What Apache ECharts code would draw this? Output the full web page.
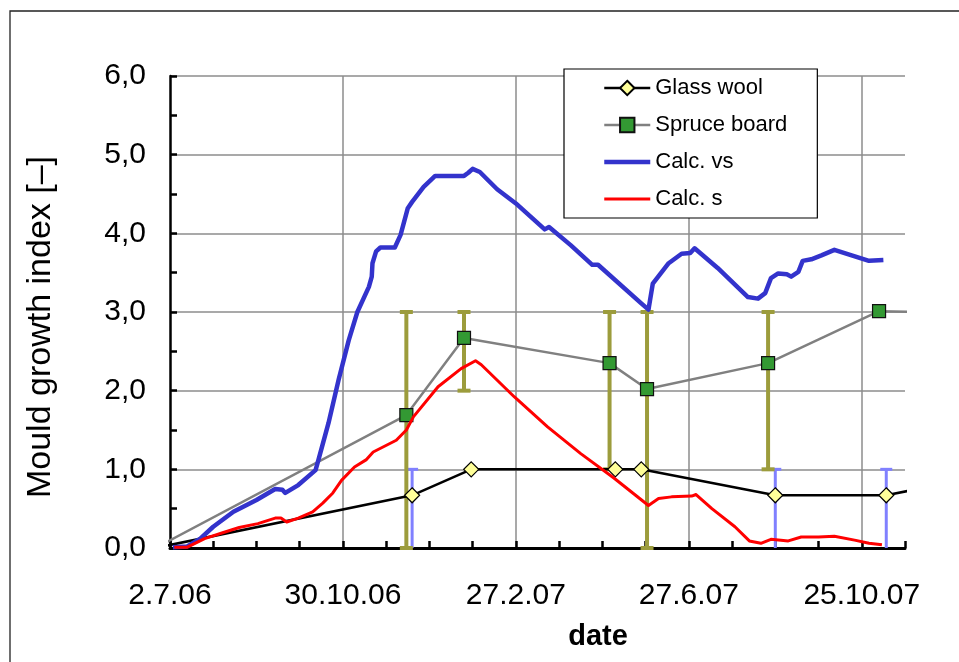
<!DOCTYPE html>
<html>
<head>
<meta charset="utf-8">
<script src="https://cdn.jsdelivr.net/npm/echarts@6/dist/echarts.min.js"></script>
<style>
  html, body { margin: 0; padding: 0; background: #fff; }
  #chart { width: 959px; height: 662px; }
</style>
</head>
<body>
<div id="chart"></div>
<script>
// x values are days counted from 2 July 2006
const START_DATE = [2006, 6, 2];
const xLabelDays = [0, 120, 240, 360, 480];

// Measured mould growth index
const glassDays  = [-5, 168, 209, 309, 327, 420, 497, 516];
const glassIndex = [0.02, 0.67, 1.0, 1.0, 1.0, 0.67, 0.67, 0.74];
const spruceDays  = [-5, 164, 204, 305, 331, 415, 492, 516];
const spruceIndex = [0.05, 1.69, 2.67, 2.35, 2.02, 2.35, 3.01, 3.0];

// Observed ranges of the measurements
const glassRangeDays = [168, 420, 497];
const glassRangeLow  = [0, 0, 0];
const glassRangeHigh = [1, 1, 1];
const spruceRangeDays = [164, 204, 305, 331, 415];
const spruceRangeLow  = [0, 2, 1, 0, 1];
const spruceRangeHigh = [3, 3, 3, 3, 3];

// Calculated index, very sensitive class
const vsDays = [2, 12, 21, 30, 44, 60, 73, 78, 80, 89, 101, 103, 110, 117, 124, 130, 138, 140, 140.5, 143,
  146, 156, 160, 165, 168, 176, 184, 204, 207, 210, 215, 227, 240, 260, 263, 278, 293, 297, 327, 332,
  335, 346, 355, 361, 364, 380, 401, 408, 413, 417, 422, 428, 431, 436, 439, 445, 452, 461, 473, 485, 495];
const vsIndex = [0.01, 0.02, 0.12, 0.27, 0.46, 0.61, 0.75, 0.74, 0.70, 0.80, 0.99, 1.12, 1.59, 2.14, 2.64, 3.00, 3.32, 3.45, 3.62, 3.77,
  3.82, 3.82, 3.98, 4.32, 4.40, 4.59, 4.73, 4.73, 4.77, 4.82, 4.78, 4.56, 4.38, 4.05, 4.08, 3.85, 3.60, 3.60, 3.11, 3.03,
  3.36, 3.62, 3.74, 3.75, 3.81, 3.56, 3.19, 3.17, 3.24, 3.43, 3.49, 3.48, 3.45, 3.51, 3.65, 3.67, 3.72, 3.79, 3.72, 3.65, 3.66];

// Calculated index, sensitive class
const sDays = [3, 12, 24, 36, 48, 61, 73, 77, 81, 89, 99, 106, 113, 119, 128, 136, 141, 157, 164, 169,
  186, 202, 212, 216, 239, 262, 285, 308, 332, 339, 348, 362, 365, 376, 392, 402, 410, 417, 429, 438,
  450, 461, 475, 485, 494];
const sIndex = [0.01, 0.01, 0.12, 0.19, 0.26, 0.31, 0.38, 0.38, 0.33, 0.38, 0.46, 0.57, 0.70, 0.86, 1.03, 1.12, 1.22, 1.37, 1.50, 1.67,
  2.05, 2.28, 2.38, 2.33, 1.92, 1.54, 1.20, 0.89, 0.54, 0.63, 0.65, 0.66, 0.68, 0.50, 0.27, 0.09, 0.06, 0.11, 0.09, 0.14,
  0.14, 0.15, 0.10, 0.06, 0.04];

const FONT = 'Liberation Sans, Arial, sans-serif';

const GLASS_LINE = { color: '#000', width: 2.5 };
const SPRUCE_LINE = { color: '#808080', width: 2.5 };
const VS_LINE = { color: '#3333cc', width: 4.5, join: 'round' };
const S_LINE = { color: '#ff0000', width: 3, join: 'round' };

function dayLabel(d) {
  if (xLabelDays.indexOf(d) < 0) return '';
  const t = new Date(START_DATE[0], START_DATE[1], START_DATE[2] + d);
  return t.getDate() + '.' + (t.getMonth() + 1) + '.' + String(t.getFullYear()).slice(2);
}

// measured points: the first and last entries only carry the line past the axes
function measured(days, vals) {
  return days.map((d, i) => {
    const item = { value: [d, vals[i]] };
    if (i === 0 || i === days.length - 1) item.symbol = 'none';
    return item;
  });
}

function rangeBars(name, days, low, high, color, width, capWidth, bottomCap) {
  return {
    type: 'custom',
    name: name,
    z: 1,
    silent: true,
    data: days.map((d, i) => [d, low[i], high[i]]),
    encode: { x: 0, y: [1, 2] },
    renderItem: function (params, api) {
      const x = api.coord([api.value(0), 0])[0];
      const yLo = api.coord([api.value(0), api.value(1)])[1];
      const yHi = api.coord([api.value(0), api.value(2)])[1];
      const style = { stroke: color, lineWidth: width };
      const children = [
        { type: 'line', shape: { x1: x, y1: yLo, x2: x, y2: yHi }, style: style },
        { type: 'line', shape: { x1: x - capWidth / 2, y1: yHi, x2: x + capWidth / 2, y2: yHi }, style: style }
      ];
      if (bottomCap) {
        children.push({ type: 'line', shape: { x1: x - capWidth / 2, y1: yLo, x2: x + capWidth / 2, y2: yLo }, style: style });
      }
      return { type: 'group', children: children };
    }
  };
}

const chart = echarts.init(document.getElementById('chart'), null, { renderer: 'canvas' });

chart.setOption({
  animation: false,
  backgroundColor: '#fff',
  grid: { left: 170, top: 76, right: 54, bottom: 114, containLabel: false },
  legend: {
    data: [
      { name: 'Glass wool', lineStyle: { width: GLASS_LINE.width } },
      { name: 'Spruce board', lineStyle: { width: SPRUCE_LINE.width } },
      { name: 'Calc. vs', lineStyle: { width: VS_LINE.width }, itemStyle: { opacity: 0 } },
      { name: 'Calc. s', lineStyle: { width: S_LINE.width }, itemStyle: { opacity: 0 } }
    ],
    orient: 'vertical',
    left: 564,
    top: 69,
    padding: [8, 30, 8, 38],
    itemWidth: 46,
    itemHeight: 18,
    itemGap: 15,
    backgroundColor: '#fff',
    borderColor: '#000',
    borderWidth: 1.2,
    borderRadius: 0,
    textStyle: { fontSize: 22, fontFamily: FONT, color: '#000', lineHeight: 22 }
  },
  xAxis: [
    {
      type: 'value',
      min: 0,
      max: 510,
      interval: 30,
      axisLine: { show: true, lineStyle: { color: '#000', width: 3 } },
      axisTick: { show: true, inside: true, length: 7, lineStyle: { color: '#000', width: 2.5 } },
      axisLabel: { formatter: dayLabel, fontSize: 30, fontFamily: FONT, color: '#000', margin: 33, showMinLabel: true, showMaxLabel: true, hideOverlap: false },
      splitLine: { show: false }
    },
    {
      type: 'value',
      min: 0,
      max: 510,
      interval: 120,
      position: 'bottom',
      axisLine: { show: false },
      axisTick: { show: false },
      axisLabel: { show: false },
      splitLine: { show: true, showMinLine: false, showMaxLine: false, lineStyle: { color: '#8c8c8c', width: 1.5 } }
    }
  ],
  yAxis: {
    type: 'value',
    min: 0,
    max: 6,
    interval: 1,
    axisLine: { show: true, lineStyle: { color: '#000', width: 2.5 } },
    axisTick: { show: true, inside: true, length: 7, lineStyle: { color: '#000', width: 2.5 } },
    minorTick: { show: true, splitNumber: 2, length: 7, lineStyle: { color: '#000', width: 2.5 } },
    axisLabel: {
      formatter: v => v.toFixed(1).replace('.', ','),
      fontSize: 30, fontFamily: FONT, color: '#000', margin: 24
    },
    splitLine: { show: true, showMinLine: false, lineStyle: { color: '#8c8c8c', width: 1.5 } }
  },
  graphic: [
    {
      type: 'rect', z: 0, silent: true,
      shape: { x: 10, y: 11, width: 1000, height: 700 },
      style: { fill: 'none', stroke: '#222', lineWidth: 1.3 }
    },
    {
      type: 'text', silent: true,
      x: 41, y: 327, rotation: Math.PI / 2,
      style: { text: 'Mould growth index [\u2013]', font: '34px ' + FONT, fill: '#000', align: 'center', verticalAlign: 'middle' }
    },
    {
      type: 'text', silent: true,
      x: 598, y: 637,
      style: { text: 'date', font: 'bold 29px ' + FONT, fill: '#000', align: 'center', verticalAlign: 'middle' }
    }
  ],
  series: [
    rangeBars('Glass wool range', glassRangeDays, glassRangeLow, glassRangeHigh, '#8080ff', 3, 12, false),
    rangeBars('Spruce board range', spruceRangeDays, spruceRangeLow, spruceRangeHigh, '#9c9c3c', 4, 13, true),
    {
      name: 'Glass wool',
      type: 'line',
      z: 3,
      clip: false,
      data: measured(glassDays, glassIndex),
      symbol: 'diamond',
      symbolSize: 15,
      showAllSymbol: true,
      lineStyle: GLASS_LINE,
      itemStyle: { color: '#ffff99', borderColor: '#000', borderWidth: 1.2 }
    },
    {
      name: 'Spruce board',
      type: 'line',
      z: 3,
      clip: false,
      data: measured(spruceDays, spruceIndex),
      symbol: 'rect',
      symbolSize: 13,
      showAllSymbol: true,
      lineStyle: SPRUCE_LINE,
      itemStyle: { color: '#339933', borderColor: '#111', borderWidth: 1.2 }
    },
    {
      name: 'Calc. vs',
      type: 'line',
      z: 4,
      data: vsDays.map((d, i) => [d, vsIndex[i]]),
      symbol: 'none',
      lineStyle: VS_LINE,
      itemStyle: { color: '#3333cc' }
    },
    {
      name: 'Calc. s',
      type: 'line',
      z: 5,
      data: sDays.map((d, i) => [d, sIndex[i]]),
      symbol: 'none',
      lineStyle: S_LINE,
      itemStyle: { color: '#ff0000' }
    }
  ]
});
</script>
</body>
</html>
